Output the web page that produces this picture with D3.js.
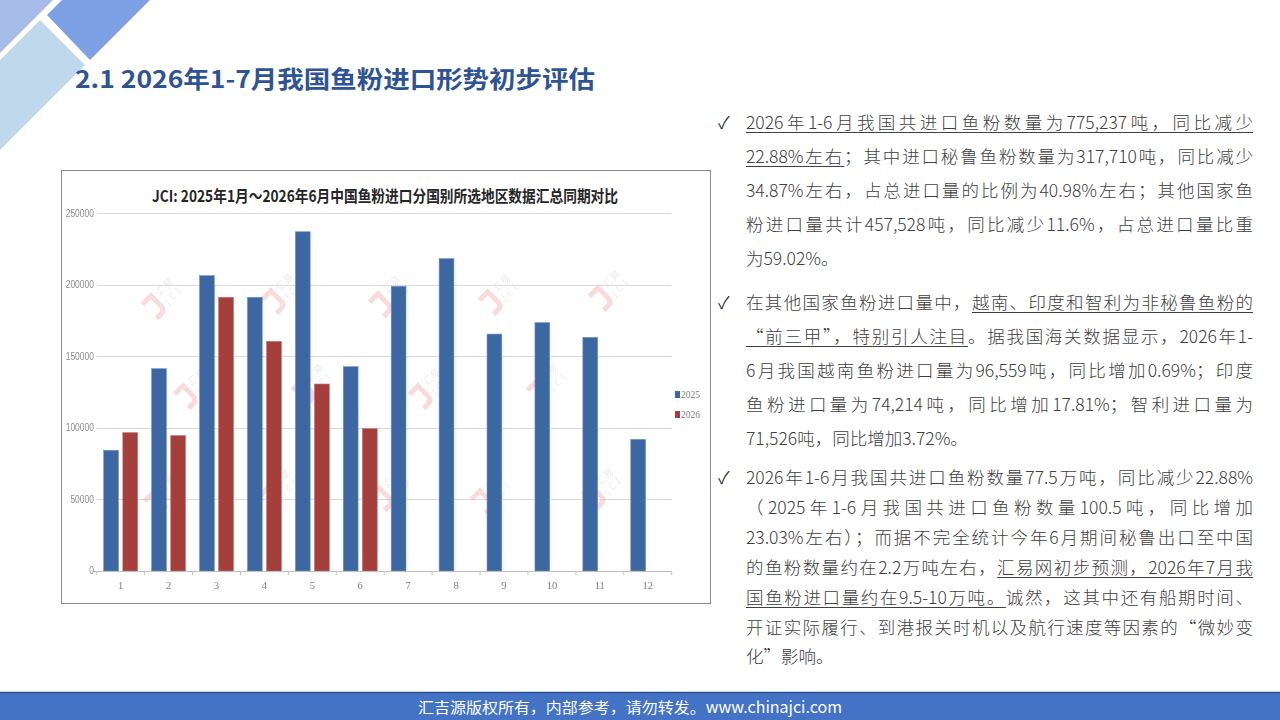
<!DOCTYPE html>
<html lang="zh-CN">
<head>
<meta charset="utf-8">
<script src="https://cdn.jsdelivr.net/npm/d3@7"></script>
<style>
  html, body { margin: 0; padding: 0; background: #ffffff; }
  body { width: 1280px; height: 720px; position: relative; overflow: hidden; font-family: "Noto Sans CJK SC", "Noto Sans", sans-serif; }
  svg { position: absolute; left: 0; top: 0; }
  .line { position: absolute; left: 746px; width: 507px; height: 26px; line-height: 26px; font-size: 17.5px; color: #404040; font-weight: 300;
          white-space: nowrap; text-align: justify; text-align-last: justify; }
  .line.last { text-align: left; text-align-last: left; }
  .line span.u { text-decoration: underline; text-decoration-thickness: 1px; text-underline-offset: 3px; }
  .check { position: absolute; left: 718px; font-family: "Noto Sans CJK SC", "DejaVu Sans", sans-serif; font-size: 17px; color: #333; height: 26px; line-height: 26px; }
</style>
</head>
<body>
<script>
// ---------- data ----------
const months = ["1","2","3","4","5","6","7","8","9","10","11","12"];
const series = ["2025","2026"];
const values2025 = [84400, 141400, 206400, 191300, 237100, 142800, 199000, 218300, 165600, 173600, 163300, 92000];
const values2026 = [96700, 94600, 191300, 160500, 130700, 99500];
const yTicks = [0, 50000, 100000, 150000, 200000, 250000];
const chartTitle = "JCI: 2025年1月～2026年6月中国鱼粉进口分国别所选地区数据汇总同期对比";
const pageTitle = "2.1 2026年1-7月我国鱼粉进口形势初步评估";
const footerText = "汇吉源版权所有，内部参考，请勿转发。www.chinajci.com";

// text paragraphs: each line is a list of [text, underlined]
const paragraphs = [
  { y: [122, 156, 190, 224, 258], lines: [
    [["2026年1-6月我国共进口鱼粉数量为775,237吨，同比减少", true]],
    [["22.88%左右", true], ["；其中进口秘鲁鱼粉数量为317,710吨，同比减少", false]],
    [["34.87%左右，占总进口量的比例为40.98%左右；其他国家鱼", false]],
    [["粉进口量共计457,528吨，同比减少11.6%，占总进口量比重", false]],
    [["为59.02%。", false]]
  ]},
  { y: [302, 336, 370, 404, 438], lines: [
    [["在其他国家鱼粉进口量中，", false], ["越南、印度和智利为非秘鲁鱼粉的", true]],
    [["“前三甲”，特别引人注目", true], ["。据我国海关数据显示，2026年1-", false]],
    [["6月我国越南鱼粉进口量为96,559吨，同比增加0.69%；印度", false]],
    [["鱼粉进口量为74,214吨，同比增加17.81%；智利进口量为", false]],
    [["71,526吨，同比增加3.72%。", false]]
  ]},
  { y: [477, 507, 537, 567, 597, 627, 656], lines: [
    [["2026年1-6月我国共进口鱼粉数量77.5万吨，同比减少22.88%", false]],
    [["（2025年1-6月我国共进口鱼粉数量100.5吨，同比增加", false]],
    [["23.03%左右）；而据不完全统计今年6月期间秘鲁出口至中国", false]],
    [["的鱼粉数量约在2.2万吨左右，", false], ["汇易网初步预测，2026年7月我", true]],
    [["国鱼粉进口量约在9.5-10万吨。", true], ["诚然，这其中还有船期时间、", false]],
    [["开证实际履行、到港报关时机以及航行速度等因素的“微妙变", false]],
    [["化”影响。", false]]
  ]}
];

// watermark positions (decoration only)
const watermarks = [[158,300],[278,295],[385,298],[495,296],[605,292],
                    [190,390],[308,386],[425,390],[543,386],
                    [160,497],[275,492],[386,492],[487,495],[598,490]];

// ---------- page ----------
const svg = d3.select("body").append("svg").attr("width", 1280).attr("height", 720);

// top-left decoration
const deco = svg.append("g");
deco.append("polygon").attr("points", "0,0 53,0 0,53").attr("fill", "#a7bbe9");
deco.append("polygon").attr("points", "62,0 150,0 90,60 47,15").attr("fill", "#7ea0e4");
deco.append("polygon").attr("points", "0,60 40,20 85,65 0,150").attr("fill", "#bfd8eb");

// page title
svg.append("text").attr("x", 75).attr("y", 88)
  .attr("font-family", "'Noto Sans CJK SC', sans-serif").attr("font-weight", 700)
  .attr("font-size", 24).attr("fill", "#2f5496")
  .attr("textLength", 520).attr("lengthAdjust", "spacingAndGlyphs")
  .text(pageTitle);

// footer
svg.append("rect").attr("x", 0).attr("y", 692).attr("width", 1280).attr("height", 28).attr("fill", "#4472c4");
svg.append("line").attr("x1", 0).attr("x2", 1280).attr("y1", 692.5).attr("y2", 692.5).attr("stroke", "#2f528f").attr("stroke-width", 1.5);
svg.append("text").attr("x", 418).attr("y", 713)
  .attr("font-family", "'Noto Sans CJK SC', sans-serif").attr("font-size", 15).attr("fill", "#ffffff")
  .attr("textLength", 424).attr("lengthAdjust", "spacingAndGlyphs")
  .text(footerText);

// ---------- chart ----------
const frame = {x: 61, y: 170, w: 649, h: 433};
svg.append("rect").attr("x", frame.x + 0.5).attr("y", frame.y + 0.5).attr("width", frame.w).attr("height", frame.h)
  .attr("fill", "#ffffff").attr("stroke", "#8c8c8c").attr("stroke-width", 1);

const plot = {left: 96.7, right: 671.7, top: 213.3, bottom: 571};
const x0 = d3.scaleBand().domain(months).range([plot.left, plot.right]).paddingInner(0).paddingOuter(0);
const bw = x0.bandwidth();
const x1 = d3.scaleBand().domain(series).range([bw * 0.146, bw * 0.854]).paddingInner(0.226).paddingOuter(0);
const y = d3.scaleLinear().domain([0, 250000]).range([plot.bottom, plot.top]);

// gridlines
svg.append("g").selectAll("line").data(yTicks.filter(d => d > 0)).join("line")
  .attr("x1", plot.left).attr("x2", plot.right)
  .attr("y1", d => Math.round(y(d)) + 0.5).attr("y2", d => Math.round(y(d)) + 0.5)
  .attr("stroke", "#d9d9d9").attr("stroke-width", 1);

// watermarks
const wm = svg.append("g").attr("opacity", 0.5);
watermarks.forEach(([cx, cy]) => {
  const g = wm.append("g").attr("transform", `translate(${cx},${cy}) rotate(-45)`);
  g.append("path").attr("d", "M-14,-8 L-2,-8 L-2,6 Q-2,12 -8,12 L-14,12")
    .attr("fill", "none").attr("stroke", "#f4b6b6").attr("stroke-width", 5);
  g.append("text").attr("x", 4).attr("y", -1).attr("font-size", 10).attr("fill", "#d8d8d8")
    .attr("font-family", "'Noto Sans CJK SC', sans-serif").text("汇易");
  g.append("text").attr("x", 4).attr("y", 11).attr("font-size", 10).attr("fill", "#d8d8d8")
    .attr("letter-spacing", 3).attr("font-family", "'Noto Sans', sans-serif").text("JCI");
});

// bars
const colors = {"2025": "#3d67a2", "2026": "#a53f3d"};
const strokes = {"2025": "#6f93c4", "2026": "#cc6d6b"};
const rows = months.map((m, i) => ({
  month: m,
  vals: [
    {s: "2025", v: values2025[i]},
    {s: "2026", v: values2026[i]}
  ].filter(d => d.v !== undefined)
}));
svg.append("g").selectAll("g").data(rows).join("g")
  .attr("transform", d => `translate(${x0(d.month)},0)`)
  .selectAll("rect").data(d => d.vals).join("rect")
  .attr("x", d => x1(d.s)).attr("width", x1.bandwidth())
  .attr("y", d => y(d.v)).attr("height", d => y(0) - y(d.v))
  .attr("fill", d => colors[d.s]).attr("stroke", d => strokes[d.s]).attr("stroke-width", 0.6);

// x axis
const xAxisG = svg.append("g");
xAxisG.append("line").attr("x1", plot.left - 4).attr("x2", plot.right).attr("y1", plot.bottom + 0.5).attr("y2", plot.bottom + 0.5)
  .attr("stroke", "#bfbfbf");
const edges = months.map(m => x0(m)).concat([plot.right]);
xAxisG.selectAll("line.tk").data(edges).join("line").attr("class", "tk")
  .attr("x1", d => d).attr("x2", d => d).attr("y1", plot.bottom).attr("y2", plot.bottom + 4)
  .attr("stroke", "#bfbfbf");
xAxisG.selectAll("text").data(months).join("text")
  .attr("x", d => x0(d) + bw / 2).attr("y", 589)
  .attr("text-anchor", "middle").attr("font-size", 10.5).attr("fill", "#7f7f7f")
  .attr("font-family", "'Liberation Serif', 'DejaVu Serif', serif")
  .text(d => d);

// y labels
svg.append("g").selectAll("text").data(yTicks).join("text")
  .attr("x", 94).attr("y", d => y(d) + 3.5)
  .attr("text-anchor", "end").attr("font-size", 10).attr("fill", "#8c8c8c")
  .attr("font-family", "'Liberation Sans', sans-serif")
  .attr("transform", d => `translate(${94 * 0.15},0) scale(0.85,1)`)
  .text(d => d);

// chart title
svg.append("text").attr("x", 152).attr("y", 202)
  .attr("font-family", "'Noto Sans CJK SC', sans-serif").attr("font-weight", 700)
  .attr("font-size", 16).attr("fill", "#262626")
  .attr("textLength", 466).attr("lengthAdjust", "spacingAndGlyphs")
  .text(chartTitle);

// legend
const leg = svg.append("g").selectAll("g").data(series).join("g")
  .attr("transform", (d, i) => `translate(675, ${391 + i * 20})`);
leg.append("rect").attr("width", 5).attr("height", 7).attr("fill", d => colors[d]);
leg.append("text").attr("x", 6).attr("y", 7).attr("font-size", 10.5).attr("fill", "#7f7f7f")
  .attr("font-family", "'Liberation Serif', serif")
  .attr("textLength", 19).attr("lengthAdjust", "spacingAndGlyphs")
  .text(d => d);

// ---------- right text ----------
const body = d3.select("body");
paragraphs.forEach(p => {
  body.append("div").attr("class", "check").style("top", (p.y[0] - 13) + "px").text("✓");
  p.lines.forEach((segs, i) => {
    const div = body.append("div")
      .attr("class", "line" + (i === p.lines.length - 1 ? " last" : ""))
      .style("top", (p.y[i] - 13) + "px");
    segs.forEach(([t, u]) => div.append("span").attr("class", u ? "u" : null).text(t));
  });
});
</script>
</body>
</html>
